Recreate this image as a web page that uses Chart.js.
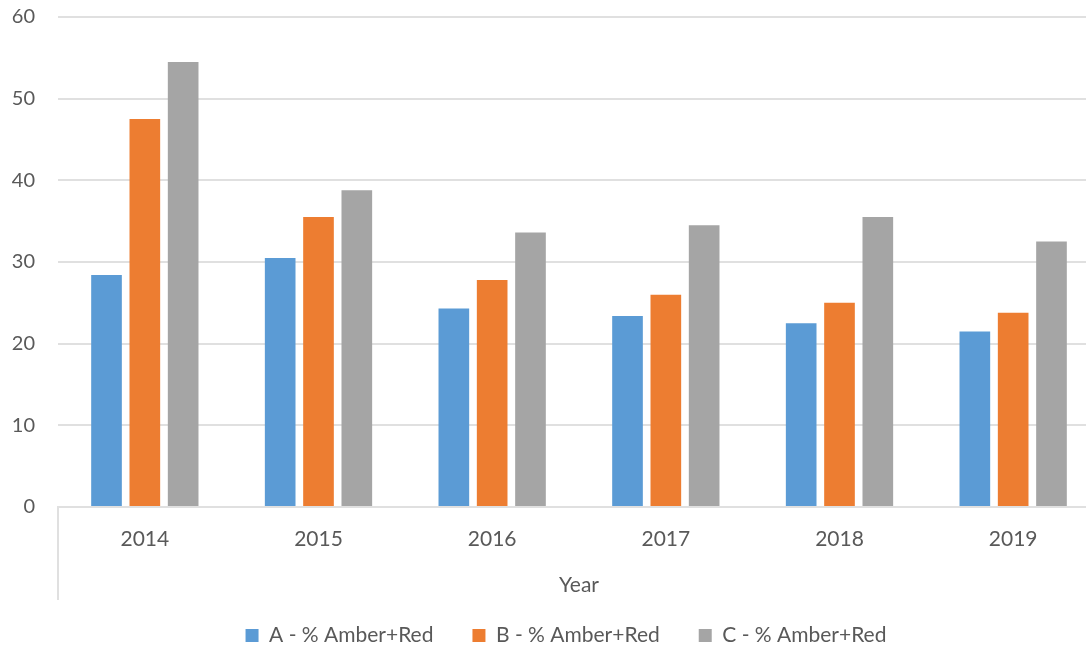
<!DOCTYPE html>
<html>
<head>
<meta charset="utf-8">
<script src="https://cdn.jsdelivr.net/npm/chart.js@4/dist/chart.umd.min.js"></script>
<style>
  html, body { margin: 0; padding: 0; background: #ffffff; overflow: hidden; width: 1086px; height: 646px; }
  #wrap { position: absolute; left: 0; top: 0; width: 1100px; height: 670px; }
</style>
</head>
<body>
<div id="wrap"><canvas id="c" width="1100" height="670"></canvas></div>
<script>
const categories = ['2014', '2015', '2016', '2017', '2018', '2019'];
const seriesNames = ['A - % Amber+Red', 'B - % Amber+Red', 'C - % Amber+Red'];
const seriesA = [28.4, 30.5, 24.3, 23.4, 22.5, 21.5];
const seriesB = [47.5, 35.5, 27.8, 26.0, 25.0, 23.8];
const seriesC = [54.5, 38.8, 33.6, 34.5, 35.5, 32.5];
const xTitle = 'Year';

const colors = ['#5B9BD5', '#ED7D31', '#A5A5A5'];
const textColor = '#595959';
const gridColor = '#E0E0E0';

const axisStubPlugin = {
  id: 'axisStub',
  afterLayout(chart) {
    // nudge the legend block, as in the original
    if (chart.legend) {
      chart.legend.left -= 13;
      chart.legend.right -= 13;
      chart.legend.top -= 14;
      chart.legend.bottom -= 14;
    }
  },
  afterDraw(chart) {
    const ctx = chart.ctx;
    const a = chart.chartArea;
    const xs = chart.scales.x;
    ctx.save();
    ctx.strokeStyle = gridColor;
    ctx.lineWidth = 2;
    ctx.beginPath();
    ctx.moveTo(a.left, a.bottom);
    ctx.lineTo(a.left, xs.bottom);
    ctx.stroke();
    ctx.restore();
  }
};

new Chart(document.getElementById('c'), {
  type: 'bar',
  data: {
    labels: categories,
    datasets: [
      { label: seriesNames[0], data: seriesA, backgroundColor: colors[0] },
      { label: seriesNames[1], data: seriesB, backgroundColor: colors[1] },
      { label: seriesNames[2], data: seriesC, backgroundColor: colors[2] }
    ]
  },
  options: {
    responsive: false,
    animation: false,
    devicePixelRatio: 1,
    categoryPercentage: 0.662,
    barPercentage: 0.8,
    layout: { padding: { top: 17, left: 0, right: 0, bottom: 0 } },
    plugins: {
      tooltip: { enabled: false },
      legend: {
        position: 'bottom',
        fullSize: false,
        labels: {
          font: { family: 'Lato', size: 21 },
          color: textColor,
          boxWidth: 13,
          boxHeight: 13,
          padding: 39
        }
      }
    },
    scales: {
      x: {
        grid: { display: false, drawTicks: false },
        border: { display: true, color: gridColor, width: 2 },
        ticks: { font: { family: 'Lato', size: 21 }, color: textColor, padding: 20, maxRotation: 0 },
        title: { display: true, text: xTitle, font: { family: 'Lato', size: 21 }, color: textColor, padding: { top: 0, bottom: 2 } },
        afterFit(scale) { scale.height = 93; }
      },
      y: {
        min: 0,
        max: 60,
        ticks: { stepSize: 10, font: { family: 'Lato', size: 20 }, color: textColor, padding: 0 },
        grid: { color: gridColor, lineWidth: 2, drawTicks: true, tickLength: 23, tickColor: 'rgba(0,0,0,0)' },
        border: { display: false },
        afterFit(scale) { scale.width = 58; }
      }
    }
  },
  plugins: [axisStubPlugin]
});
</script>
</body>
</html>
